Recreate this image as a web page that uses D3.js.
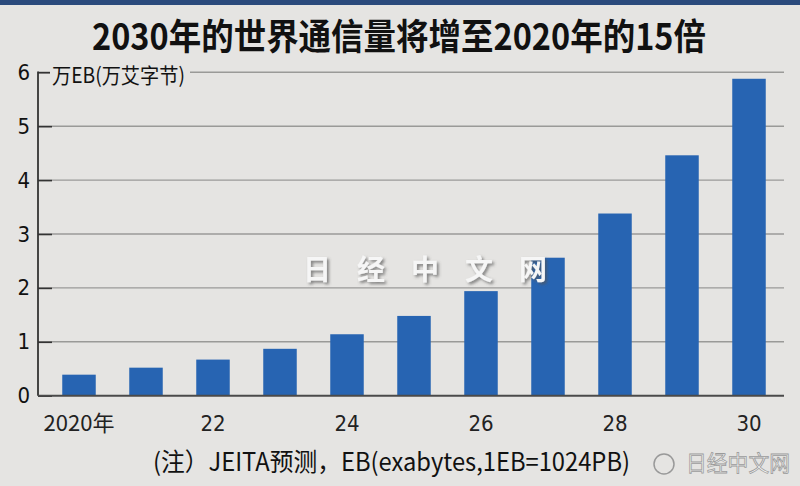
<!doctype html>
<html lang="zh">
<head>
<meta charset="UTF-8" />
<title>2030年的世界通信量</title>
<script src="https://cdn.jsdelivr.net/npm/d3@7"></script>
<style>
  html, body { margin: 0; padding: 0; background: #e5e4e2; }
  svg { display: block; }
</style>
</head>
<body>
<div id="chart"></div>
<script>
// data
const years = [2020, 2021, 2022, 2023, 2024, 2025, 2026, 2027, 2028, 2029, 2030];
const traffic = [0.39, 0.52, 0.67, 0.87, 1.14, 1.48, 1.94, 2.56, 3.38, 4.46, 5.88];
const yearLabels = ["2020年", "", "22", "", "24", "", "26", "", "28", "", "30"];
const yTicks = [0, 1, 2, 3, 4, 5, 6];

const titleText = "2030年的世界通信量将增至2020年的15倍";
const unitText = "万EB(万艾字节)";
const noteText = "(注）JEITA预测，EB(exabytes,1EB=1024PB)";

const width = 800;
const height = 486;
const axisX = 38;
const gridRight = 784;
const cjk = "'Noto Sans CJK SC', 'Noto Sans', sans-serif";
const narrow = "'Liberation Sans Narrow', 'DejaVu Sans Condensed', 'Roboto', sans-serif";

const svg = d3.select("#chart").append("svg")
  .attr("width", width)
  .attr("height", height);

// soft shadow for the watermark
const shadow = svg.append("defs").append("filter")
  .attr("id", "wmShadow")
  .attr("x", "-20%").attr("y", "-40%")
  .attr("width", "140%").attr("height", "180%");
shadow.append("feDropShadow")
  .attr("dx", 2).attr("dy", 2)
  .attr("stdDeviation", 1.8)
  .attr("flood-color", "#555")
  .attr("flood-opacity", 0.7);

svg.append("rect").attr("width", width).attr("height", height).attr("fill", "#e5e4e2");
// dark strip on top
svg.append("rect").attr("width", width).attr("height", 5).attr("fill", "#2b4a7c");

// title
svg.append("text")
  .text(titleText)
  .attr("x", 92).attr("y", 50)
  .attr("textLength", 614)
  .attr("lengthAdjust", "spacingAndGlyphs")
  .style("font-family", cjk)
  .style("font-weight", 700)
  .style("font-size", "36px")
  .attr("fill", "#111");

// scales
const x = d3.scaleBand()
  .domain(years)
  .range([45.5, 782.5])
  .paddingInner(0.5)
  .paddingOuter(0.25);

const y = d3.scaleLinear()
  .domain([0, 6])
  .range([395.7, 72.3]);

// gridlines
svg.append("g")
  .selectAll("line")
  .data(yTicks.filter(d => d > 0))
  .join("line")
  .attr("x1", axisX).attr("x2", gridRight)
  .attr("y1", d => y(d)).attr("y2", d => y(d))
  .attr("stroke", "#9a9a98")
  .attr("stroke-width", 1.4);

// y axis
const yAxis = d3.axisLeft(y)
  .tickValues(yTicks)
  .tickSize(-14)
  .tickPadding(22)
  .tickFormat(d3.format("d"));

const yg = svg.append("g")
  .attr("transform", `translate(${axisX},0)`)
  .call(yAxis);
yg.select(".domain").remove();
yg.selectAll(".tick line").attr("stroke", "#333").attr("stroke-width", 1.6);
yg.selectAll(".tick text")
  .attr("x", -8)
  .attr("fill", "#111")
  .style("font-family", narrow)
  .style("font-size", "22px");

svg.append("line")
  .attr("x1", axisX).attr("x2", axisX)
  .attr("y1", y(6) - 0.8).attr("y2", y(0))
  .attr("stroke", "#333")
  .attr("stroke-width", 1.8);

// unit label sitting on the top gridline
svg.append("rect")
  .attr("x", 50).attr("y", y(6) - 4)
  .attr("width", 140).attr("height", 10)
  .attr("fill", "#e5e4e2");
svg.append("text")
  .text(unitText)
  .attr("x", 52).attr("y", 83)
  .attr("textLength", 133)
  .attr("lengthAdjust", "spacingAndGlyphs")
  .style("font-family", cjk)
  .style("font-size", "21px")
  .attr("fill", "#111");

// bars
svg.append("g")
  .selectAll("rect")
  .data(years)
  .join("rect")
  .attr("x", d => x(d))
  .attr("width", x.bandwidth())
  .attr("y", (d, i) => y(traffic[i]))
  .attr("height", (d, i) => y(0) - y(traffic[i]))
  .attr("fill", "#2764b2");

// baseline
svg.append("line")
  .attr("x1", axisX).attr("x2", gridRight)
  .attr("y1", y(0)).attr("y2", y(0))
  .attr("stroke", "#4a4a4a")
  .attr("stroke-width", 2);

// x axis labels
const xAxis = d3.axisBottom(x)
  .tickSize(0)
  .tickPadding(20)
  .tickFormat((d, i) => yearLabels[i]);

const xg = svg.append("g")
  .attr("transform", `translate(0,${y(0)})`)
  .call(xAxis);
xg.select(".domain").remove();
xg.selectAll(".tick text")
  .attr("fill", "#222")
  .style("font-family", (d, i) => i === 0 ? cjk : narrow)
  .style("font-size", "22px");

// watermark in the middle
svg.append("text")
  .text("日经中文网")
  .attr("x", 438).attr("y", 280)
  .attr("text-anchor", "middle")
  .style("font-family", cjk)
  .style("font-weight", 700)
  .style("font-size", "28px")
  .style("letter-spacing", "26px")
  .attr("fill", "#f6f6f6")
  .attr("filter", "url(#wmShadow)");

// footnote
svg.append("text")
  .text(noteText)
  .attr("x", 153).attr("y", 471)
  .attr("textLength", 477)
  .attr("lengthAdjust", "spacingAndGlyphs")
  .style("font-family", cjk)
  .style("font-size", "25px")
  .attr("fill", "#111");

// weibo mark
svg.append("text")
  .text("日经中文网")
  .attr("x", 686).attr("y", 471)
  .attr("textLength", 104)
  .attr("lengthAdjust", "spacingAndGlyphs")
  .style("font-family", cjk)
  .style("font-size", "22px")
  .attr("fill", "#f2f2f2")
  .attr("stroke", "#9a9a9a")
  .attr("stroke-width", 0.8);
svg.append("circle")
  .attr("cx", 664).attr("cy", 464).attr("r", 10)
  .attr("fill", "none")
  .attr("stroke", "#999")
  .attr("stroke-width", 1.5);
</script>
</body>
</html>
